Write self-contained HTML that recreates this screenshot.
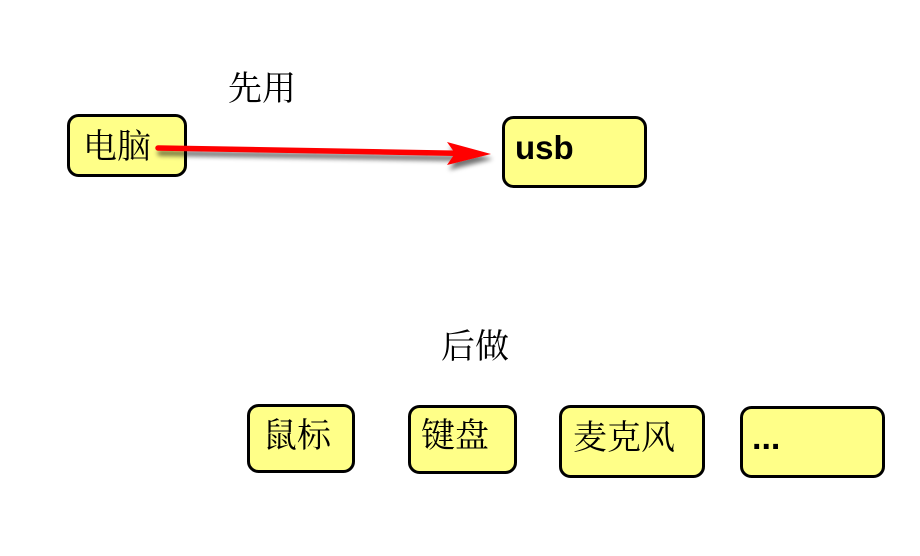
<!DOCTYPE html>
<html>
<head>
<meta charset="utf-8">
<style>
  html, body { margin:0; padding:0; background:#ffffff; }
  body { width:920px; height:556px; overflow:hidden; }
  svg { display:block; }
  .cjk { font-family: "Liberation Serif", "Noto Serif CJK SC", "Noto Sans CJK SC", serif; font-size:34px; fill:#000; }
  .box { fill:#ffff88; stroke:#000; stroke-width:3; }
  .b { font-family: "Liberation Sans", sans-serif; font-weight:bold; fill:#000; }
</style>
</head>
<body>
<svg width="920" height="556" viewBox="0 0 920 556" xmlns="http://www.w3.org/2000/svg">
  <defs>
    <filter id="sh" x="-10%" y="-100%" width="120%" height="300%">
      <feGaussianBlur in="SourceAlpha" stdDeviation="2.5"/>
      <feOffset dx="2" dy="5" result="o"/>
      <feComponentTransfer><feFuncA type="linear" slope="0.55"/></feComponentTransfer>
      <feMerge><feMergeNode/><feMergeNode in="SourceGraphic"/></feMerge>
    </filter>
  </defs>

  <!-- labels -->
  <text class="cjk" x="228" y="100">先用</text>
  <text class="cjk" x="441" y="358">后做</text>

  <!-- top boxes -->
  <rect class="box" x="68.5" y="115.5" width="117" height="60" rx="10" ry="10"/>
  <text class="cjk" x="83" y="158">电脑</text>

  <rect class="box" x="503.5" y="117.5" width="142" height="69" rx="10" ry="10"/>
  <text class="b" x="515" y="159" font-size="33">usb</text>

  <!-- arrow -->
  <g filter="url(#sh)">
    <line x1="158" y1="148" x2="455" y2="153.2" stroke="#ff0000" stroke-width="5.5" stroke-linecap="round"/>
    <polygon points="447,142 491,154 447,165 455,153.2" fill="#ff0000"/>
  </g>

  <!-- bottom boxes -->
  <rect class="box" x="248.5" y="405.5" width="105" height="66" rx="10" ry="10"/>
  <text class="cjk" x="263" y="447">鼠标</text>

  <rect class="box" x="409.5" y="406.5" width="106" height="66" rx="10" ry="10"/>
  <text class="cjk" x="421" y="447">键盘</text>

  <rect class="box" x="560.5" y="406.5" width="143" height="70" rx="10" ry="10"/>
  <text class="cjk" x="573" y="449" font-size="35">麦克风</text>

  <rect class="box" x="741.5" y="407.5" width="142" height="69" rx="10" ry="10"/>
  <text class="b" x="752" y="449" font-size="34">...</text>
</svg>
</body>
</html>
